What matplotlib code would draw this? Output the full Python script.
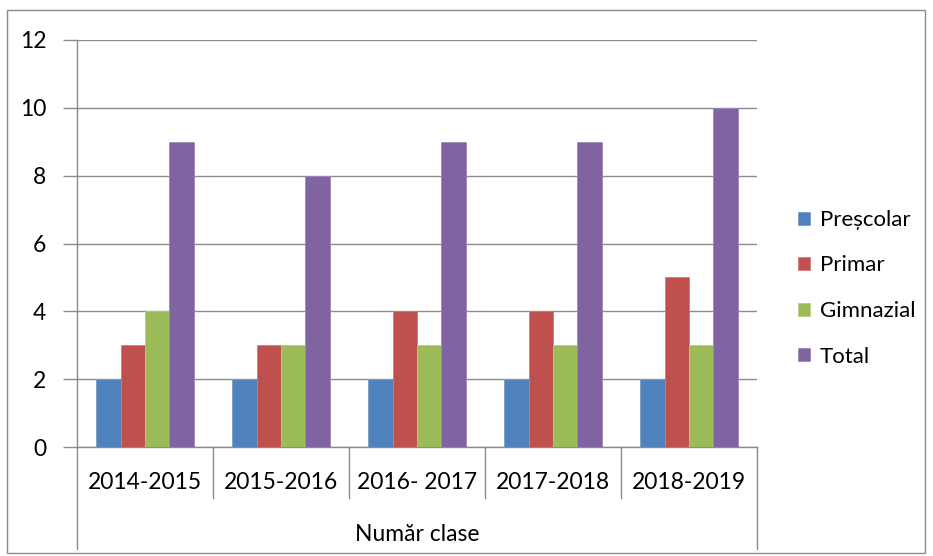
import numpy as np
import matplotlib.pyplot as plt
from matplotlib.patches import Rectangle

plt.rcParams['font.family'] = ['Lato', 'DejaVu Sans']

years = ["2014-2015", "2015-2016", "2016- 2017", "2017-2018", "2018-2019"]
series = ["Preșcolar", "Primar", "Gimnazial", "Total"]
prescolar = [2, 2, 2, 2, 2]
primar = [3, 3, 4, 4, 5]
gimnazial = [4, 3, 3, 3, 3]
total = [9, 8, 9, 9, 10]
group_title = "Număr clase"

colors = ["#4F81BD", "#C0504D", "#9BBB59", "#8064A2"]
edges = ["#7A9DCC", "#D07C7A", "#B5CD85", "#9D88BA"]
grid_c = "#8c8c8c"

fig = plt.figure(figsize=(9.33, 5.56), dpi=100)
ax = fig.add_axes([77 / 933, 109 / 556, 680 / 933, 407 / 556])

# outer chart border
fig.patches.append(Rectangle((7 / 933, 3 / 556), 918 / 933, 543 / 556,
                             transform=fig.transFigure, fill=False,
                             edgecolor=grid_c, linewidth=1.0))

x = np.arange(len(years))
w = 0.18
for i, vals in enumerate([prescolar, primar, gimnazial, total]):
    ax.bar(x + (i - 1.5) * w, vals, w, color=colors[i], edgecolor=edges[i],
           linewidth=0.6, label=series[i], zorder=3)

ax.set_xlim(-0.5, len(years) - 0.5)
ax.set_ylim(0, 12)
ax.set_yticks(np.arange(0, 13, 2))
ax.yaxis.grid(True, color=grid_c, linewidth=1.0, zorder=0)
ax.set_axisbelow(True)
ax.tick_params(axis='y', length=10, width=1.0, color=grid_c, pad=12,
               labelsize=16.5)
ax.set_xticks([])
for s in ["top", "right"]:
    ax.spines[s].set_visible(False)
for s in ["left", "bottom"]:
    ax.spines[s].set_color(grid_c)
    ax.spines[s].set_linewidth(1.0)

# multi-level category axis
trans = ax.get_xaxis_transform()
bounds = np.arange(len(years) + 1) - 0.5
for b in bounds:
    low = -0.251 if b in (bounds[0], bounds[-1]) else -0.125
    ax.plot([b, b], [0, low], color=grid_c, lw=1.0, transform=trans,
            clip_on=False)
for xi, lab in zip(x, years):
    ax.text(xi, -0.088, lab, transform=trans, ha='center', va='center',
            fontsize=16.5)
ax.text(np.mean(x), -0.216, group_title, transform=trans, ha='center',
        va='center', fontsize=16.5)

ax.legend(loc='center left', bbox_to_anchor=(1.031, 0.39), frameon=False,
          fontsize=16, handlelength=0.52, handleheight=0.52,
          handletextpad=0.45, labelspacing=1.15)

fig.savefig("out.png", dpi=100)
